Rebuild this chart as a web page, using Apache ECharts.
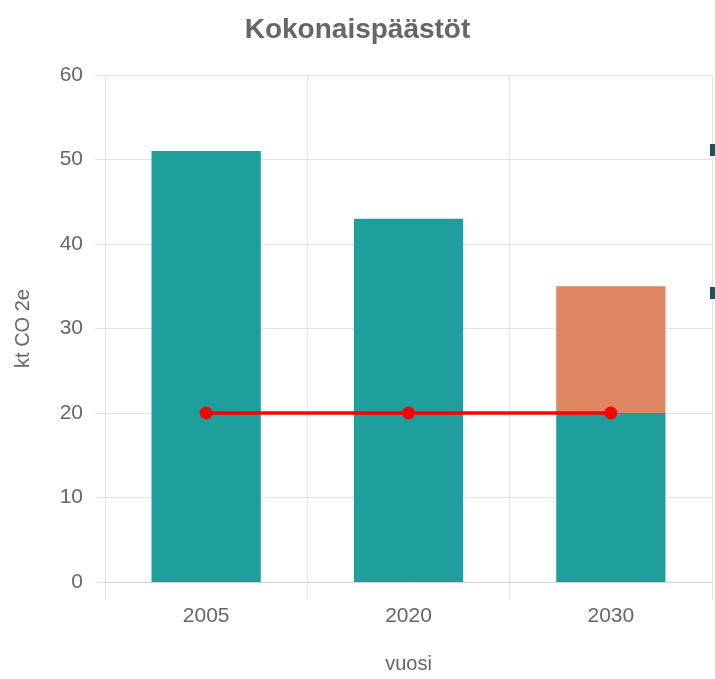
<!DOCTYPE html>
<html>
<head>
<meta charset="utf-8">
<script src="https://cdn.jsdelivr.net/npm/echarts@6/dist/echarts.min.js"></script>
<style>html,body{margin:0;padding:0;background:#fff;}#c{width:715px;height:679px;}</style>
</head>
<body>
<div id="c"></div>
<script>
var categories = ['2005', '2020', '2030'];
var emissions = [51, 43, 20];
var reductionNeed = [null, null, 15];
var target = [20, 20, 20];
var yTicks = [0, 10, 20, 30, 40, 50, 60];

var chart = echarts.init(document.getElementById('c'));
var font = '"Liberation Sans", Arial, sans-serif';
chart.setOption({
  animation: false,
  title: {
    text: 'Kokonaispäästöt',
    left: 'center',
    top: 11,
    textStyle: {fontFamily: font, fontSize: 28, fontWeight: 'bold', color: '#666'}
  },
  legend: {
    orient: 'vertical',
    left: 710,
    top: 144,
    padding: 0,
    icon: 'rect',
    itemWidth: 12,
    itemHeight: 12,
    itemGap: 131,
    textStyle: {fontFamily: font, fontSize: 11, lineHeight: 12, color: '#666'},
    data: [
      {name: 'Päästöt', itemStyle: {color: '#23505f'}},
      {name: 'Vähennystarve', itemStyle: {color: '#23505f'}}
    ]
  },
  grid: {left: 105, right: 3, top: 75, bottom: 90, containLabel: false},
  xAxis: {
    type: 'category',
    data: categories,
    name: 'vuosi',
    nameLocation: 'middle',
    nameGap: 72,
    nameTextStyle: {fontFamily: font, fontSize: 20, color: '#666'},
    axisLine: {show: true, lineStyle: {color: '#d0d0d0', width: 1}},
    axisTick: {show: true, length: 18, lineStyle: {color: '#e3e3e3'}},
    axisLabel: {fontFamily: font, fontSize: 21, color: '#666', margin: 24},
    splitLine: {show: true, lineStyle: {color: '#e3e3e3', width: 1}}
  },
  yAxis: {
    type: 'value',
    min: yTicks[0],
    max: yTicks[yTicks.length - 1],
    interval: 10,
    name: 'kt CO 2e',
    nameLocation: 'middle',
    nameGap: 72,
    nameTextStyle: {fontFamily: font, fontSize: 20, color: '#666'},
    axisLine: {show: true, lineStyle: {color: '#e3e3e3'}},
    axisTick: {show: true, length: 10, lineStyle: {color: '#e3e3e3'}},
    axisLabel: {fontFamily: font, fontSize: 21, color: '#666', margin: 22},
    splitLine: {show: true, lineStyle: {color: '#e3e3e3', width: 1}}
  },
  series: [
    {
      name: 'Päästöt',
      type: 'bar',
      stack: 'total',
      data: emissions,
      barWidth: '54%',
      itemStyle: {color: '#1f9e9e'}
    },
    {
      name: 'Vähennystarve',
      type: 'bar',
      stack: 'total',
      data: reductionNeed,
      barWidth: '54%',
      itemStyle: {color: '#de8562'}
    },
    {
      name: 'Tavoite',
      type: 'line',
      data: target,
      symbol: 'circle',
      symbolSize: 13,
      lineStyle: {color: '#ff0000', width: 3.5},
      itemStyle: {color: '#ff0000'},
      z: 5
    }
  ]
});
</script>
</body>
</html>
